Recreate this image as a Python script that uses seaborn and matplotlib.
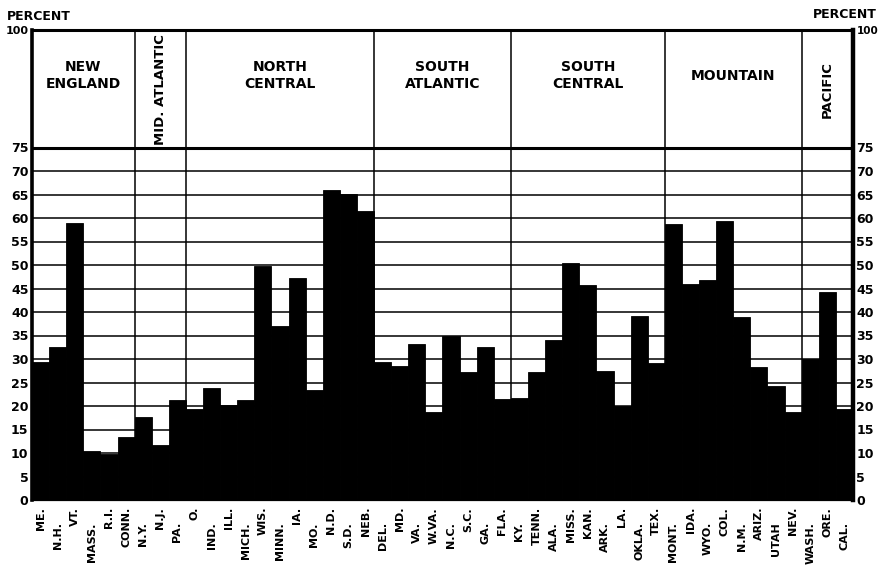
import matplotlib
matplotlib.use("Agg")
import matplotlib.pyplot as plt
import seaborn as sns
import pandas as pd

# ---- data ----
states = ["ME.", "N.H.", "VT.", "MASS.", "R.I.", "CONN.",
          "N.Y.", "N.J.", "PA.",
          "O.", "IND.", "ILL.", "MICH.", "WIS.", "MINN.", "IA.", "MO.", "N.D.", "S.D.", "NEB.",
          "DEL.", "MD.", "VA.", "W.VA.", "N.C.", "S.C.", "GA.", "FLA.",
          "KY.", "TENN.", "ALA.", "MISS.", "KAN.", "ARK.", "LA.", "OKLA.", "TEX.",
          "MONT.", "IDA.", "WYO.", "COL.", "N.M.", "ARIZ.", "UTAH", "NEV.",
          "WASH.", "ORE.", "CAL."]
values = [29.4, 32.5, 59.0, 10.5, 9.8, 13.5,
          17.6, 11.6, 21.3,
          19.3, 23.9, 20.2, 21.3, 49.8, 37.1, 47.2, 23.4, 65.9, 65.2, 61.5,
          29.4, 28.5, 33.2, 18.8, 34.9, 27.3, 32.6, 21.4,
          21.6, 27.3, 34.0, 50.5, 45.8, 27.5, 20.0, 39.2, 29.1,
          58.7, 45.9, 46.8, 59.4, 39.0, 28.4, 24.3, 18.8,
          30.0, 44.3, 19.3]
regions = ["NEW\nENGLAND", "MID. ATLANTIC", "NORTH\nCENTRAL", "SOUTH\nATLANTIC",
           "SOUTH\nCENTRAL", "MOUNTAIN", "PACIFIC"]
region_sizes = [6, 3, 11, 8, 9, 8, 3]
y_ticks = [0, 5, 10, 15, 20, 25, 30, 35, 40, 45, 50, 55, 60, 65, 70, 75, 100]

# ---- style (label stagger: 1 = upper row, 0 = lower row) ----
label_upper = [1, 0, 1, 0, 1, 1, 0, 1, 0, 1, 0, 1, 0, 1, 0, 1, 0, 1, 0, 1,
               0, 1, 0, 1, 0, 1, 0, 1, 0, 1, 0, 1, 1, 0, 1, 0, 1, 0, 1, 0,
               1, 0, 1, 0, 1, 0, 1, 0]
region_rotated = [False, True, False, False, False, False, True]

sns.set_style("white")
plt.rcParams["font.family"] = ["DejaVu Sans"]
plt.rcParams["text.color"] = "black"
plt.rcParams["xtick.color"] = "black"
plt.rcParams["ytick.color"] = "black"
plt.rcParams["axes.labelcolor"] = "black"

W, H = 879, 568
fig = plt.figure(figsize=(W / 100, H / 100), dpi=100)
left, right, top, bottom = 32, 853, 30, 500
ax = fig.add_axes([left / W, 1 - bottom / H, (right - left) / W, (bottom - top) / H])

df = pd.DataFrame({"state": states, "value": values})
sns.barplot(data=df, x="state", y="value", color="black", saturation=1,
            width=1.0, ax=ax, edgecolor="black", linewidth=0.6, zorder=3)

ax.set_xlim(-0.5, len(states) - 0.5)
ax.set_ylim(0, 100)
ax.set_xlabel("")
ax.set_ylabel("")

# horizontal grid lines up to 75
for v in y_ticks:
    if 0 < v <= 75:
        ax.axhline(v, color="black", lw=2.2 if v == 75 else 1.1, zorder=1)

# region dividers and labels
start = 0
for name, size, rot in zip(regions, region_sizes, region_rotated):
    end = start + size
    if end < len(states):
        ax.axvline(end - 0.5, color="black", lw=1.1, zorder=1)
    cx = start + size / 2 - 0.5
    if rot:
        ax.text(cx, 87.3, name, rotation=90, ha="center", va="center",
                fontsize=9.5, fontweight="bold", color="black", zorder=4)
    else:
        ax.text(cx, 90.3, name, ha="center", va="center", fontsize=10,
                fontweight="bold", linespacing=1.25, color="black", zorder=4)
    start = end

# spines
for side, lw in [("top", 2.2), ("left", 2.6), ("right", 3.2), ("bottom", 1.6)]:
    ax.spines[side].set_visible(True)
    ax.spines[side].set_color("black")
    ax.spines[side].set_linewidth(lw)

# y ticks both sides
ax.set_yticks(y_ticks)
ax.set_yticklabels([str(t) for t in y_ticks], fontsize=9, fontweight="bold")
ax.tick_params(axis="y", which="both", left=True, right=True, labelleft=True,
               labelright=True, length=0, pad=2.5, labelsize=9, labelcolor="black")
for tick in ax.yaxis.get_major_ticks():
    tick.label1.set_fontweight("bold")
    tick.label2.set_fontweight("bold")
top_tick = ax.yaxis.get_major_ticks()[-1]
top_tick.label1.set_fontsize(8)
top_tick.label2.set_fontsize(7.5)

# staggered x tick labels
pos = list(range(len(states)))
up_pos = [p for p in pos if label_upper[p]]
lo_pos = [p for p in pos if not label_upper[p]]
ax.set_xticks(up_pos)
ax.set_xticklabels([states[p] for p in up_pos], rotation=90, fontsize=8,
                   fontweight="bold", va="top", ha="center")
ax.set_xticks(lo_pos, minor=True)
ax.set_xticklabels([states[p] for p in lo_pos], minor=True, rotation=90,
                   fontsize=8, fontweight="bold", va="top", ha="center")
ax.tick_params(axis="x", which="major", length=0, pad=5, labelcolor="black")
ax.tick_params(axis="x", which="minor", length=0, pad=16, labelcolor="black")

fig.text(7 / W, 1 - 17 / H, "PERCENT", ha="left", va="center", fontsize=9,
         fontweight="bold", color="black")
fig.text(877 / W, 1 - 15 / H, "PERCENT", ha="right", va="center", fontsize=9,
         fontweight="bold", color="black")

fig.savefig("out.png", dpi=100)
